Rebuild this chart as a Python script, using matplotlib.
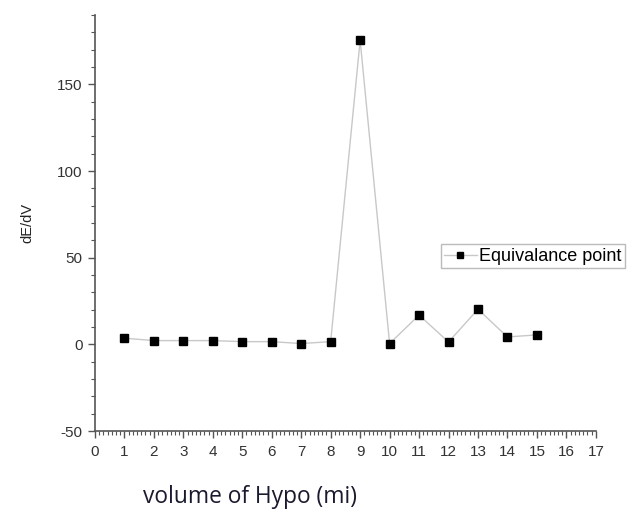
import matplotlib
matplotlib.use("Agg")
import matplotlib.pyplot as plt
from matplotlib.ticker import MultipleLocator, AutoMinorLocator

volume = [1, 2, 3, 4, 5, 6, 7, 8, 9, 10, 11, 12, 13, 14, 15]
dE_dV = [3.6, 2.2, 2.2, 2.2, 1.6, 1.6, 0.5, 1.6, 175.5, 0.5, 16.9, 1.4, 20.3, 4.3, 5.5]

x_ticks = list(range(0, 18))
y_ticks = [-50, 0, 50, 100, 150]

plt.rcParams['font.family'] = ['Liberation Sans', 'DejaVu Sans']
plt.rcParams['axes.unicode_minus'] = False

fig = plt.figure(figsize=(6.4, 5.2), dpi=100)
ax = fig.add_axes([0.1484, 0.171, 0.7826, 0.800])

ax.plot(volume, dE_dV, color='#c8c8c8', lw=1.0, marker='s', ms=6,
        mfc='black', mec='black', label='Equivalance point')

ax.set_xlim(0, 17)
ax.set_ylim(-50, 190)
ax.set_xticks(x_ticks)
ax.set_yticks(y_ticks)
ax.xaxis.set_minor_locator(AutoMinorLocator(7))
ax.yaxis.set_minor_locator(MultipleLocator(10))

for s in ['top', 'right']:
    ax.spines[s].set_visible(False)
for s in ['left', 'bottom']:
    ax.spines[s].set_color('#555555')
    ax.spines[s].set_linewidth(1.2)

ax.tick_params(axis='both', which='major', direction='out', length=5, width=1,
               colors='#555555', labelsize=11, labelcolor='#333333')
ax.tick_params(axis='both', which='minor', direction='out', length=3, width=0.8,
               colors='#555555')
ax.tick_params(axis='x', pad=5)
ax.tick_params(axis='y', pad=4)

ax.set_ylabel('dE/dV', fontsize=10.5, color='#222222', labelpad=16)

leg = ax.legend(loc='center left', bbox_to_anchor=(0.69, 0.42), fontsize=13,
                frameon=True, fancybox=False, edgecolor='#aaaaaa',
                handlelength=1.8, handletextpad=0.15, borderpad=0.2,
                borderaxespad=0, markerscale=0.8)
leg.get_frame().set_linewidth(1.0)

fig.text(250 / 640, 1 - 497 / 520, 'volume of Hypo (mi)', fontsize=16.4,
         family=['Open Sans', 'DejaVu Sans'], color='#1a1a2e',
         ha='center', va='center')

fig.savefig('out.png', dpi=100)
